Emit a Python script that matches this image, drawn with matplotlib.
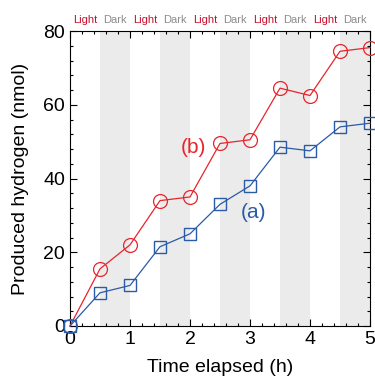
import matplotlib.pyplot as plt
import numpy as np
from matplotlib.ticker import MultipleLocator

plt.rcParams['font.family'] = ['Liberation Sans', 'DejaVu Sans']

time_h = [0, 0.5, 1, 1.5, 2, 2.5, 3, 3.5, 4, 4.5, 5]
h2_b = [0, 15.5, 22, 34, 35, 49.5, 50.5, 64.5, 62.5, 74.5, 75.5]
h2_a = [0, 9, 11, 21.5, 25, 33, 38, 48.5, 47.5, 54, 55]
dark_periods = [(0.5, 1), (1.5, 2), (2.5, 3), (3.5, 4), (4.5, 5)]
phase_labels = ['Light', 'Dark'] * 5

red = '#e8242c'
blue = '#2b5aa6'

fig = plt.figure(figsize=(3.75, 3.84), dpi=100)
ax = fig.add_axes([70/375, 1 - 326/384, 300/375, 295/384])

for a, b in dark_periods:
    ax.axvspan(a, b, color='#ebebeb', lw=0, zorder=0)

ax.plot(time_h, h2_b, '-o', color=red, lw=0.9, ms=10, mfc='none', mew=0.9, clip_on=False, zorder=3)
ax.plot(time_h, h2_a, '-s', color=blue, lw=0.9, ms=8, mfc='none', mew=1.0, clip_on=False, zorder=3)

ax.text(2.06, 48.5, '(b)', color=red, fontsize=15, ha='center', va='center')
ax.text(3.05, 30.8, '(a)', color=blue, fontsize=15, ha='center', va='center')

for i, lab in enumerate(phase_labels):
    ax.text(0.25 + 0.5 * i, 81.5, lab, color='#c8102e' if lab == 'Light' else '#8c8c8c',
            fontsize=8, ha='center', va='bottom')

ax.set_xlim(0, 5)
ax.set_ylim(0, 80)
ax.xaxis.set_major_locator(MultipleLocator(1))
ax.xaxis.set_minor_locator(MultipleLocator(0.2))
ax.yaxis.set_major_locator(MultipleLocator(20))
ax.yaxis.set_minor_locator(MultipleLocator(4))
ax.tick_params(which='both', direction='in', top=True, right=True, labelsize=14, width=0.8)
ax.tick_params(which='major', length=5)
ax.tick_params(which='minor', length=2.5)
for s in ax.spines.values():
    s.set_linewidth(0.8)

ax.set_xlabel('Time elapsed (h)', fontsize=14, labelpad=8)
ax.set_ylabel('Produced hydrogen (nmol)', fontsize=14, labelpad=10)

fig.savefig('out.png', dpi=100)
